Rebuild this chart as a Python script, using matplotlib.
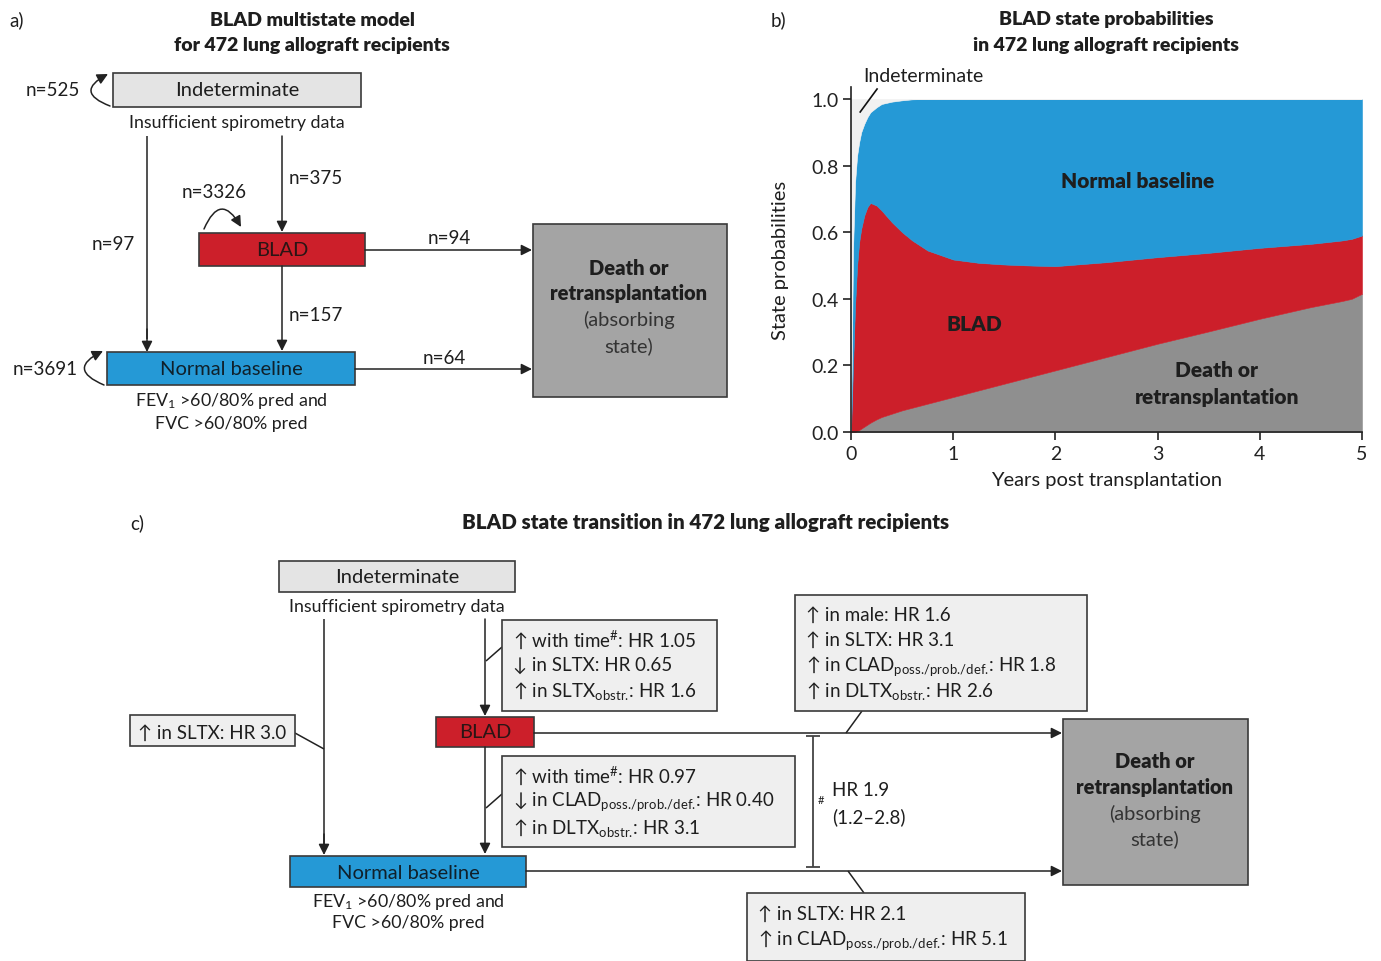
import matplotlib
matplotlib.use('Agg')
import matplotlib.pyplot as plt
from matplotlib.patches import Rectangle, FancyArrowPatch

plt.rcParams['font.family'] = ['Lato', 'DejaVu Sans']
plt.rcParams['mathtext.fontset'] = 'custom'
plt.rcParams['mathtext.rm'] = 'Lato'
plt.rcParams['mathtext.it'] = 'Lato:italic'
plt.rcParams['mathtext.bf'] = 'Lato:bold'
plt.rcParams['mathtext.fallback'] = 'stixsans'

# ---------------- data (panel b) ----------------
years = [0, 0.02, 0.04, 0.06, 0.08, 0.1, 0.13, 0.16, 0.19, 0.25, 0.3, 0.4, 0.5, 0.6,
         0.75, 1.0, 1.25, 1.5, 1.75, 2.0, 2.5, 3.0, 3.5, 4.0, 4.5, 4.8, 4.9, 5.0]
p_death = [0, 0, 0, 0.003, 0.006, 0.010, 0.016, 0.022, 0.028, 0.038, 0.045, 0.055, 0.065, 0.073,
           0.085, 0.105, 0.125, 0.145, 0.165, 0.185, 0.225, 0.265, 0.302, 0.340, 0.375, 0.393, 0.400, 0.415]
p_blad = [0, 0.20, 0.38, 0.497, 0.564, 0.600, 0.634, 0.653, 0.660, 0.642, 0.620, 0.575, 0.535, 0.502,
          0.460, 0.413, 0.383, 0.358, 0.335, 0.313, 0.285, 0.260, 0.236, 0.213, 0.190, 0.182, 0.180, 0.175]
p_normal = [0, 0.35, 0.37, 0.33, 0.30, 0.29, 0.275, 0.27, 0.272, 0.295, 0.32, 0.362, 0.396, 0.424,
            0.455, 0.482, 0.492, 0.497, 0.50, 0.502, 0.49, 0.475, 0.462, 0.447, 0.435, 0.425, 0.42, 0.41]
p_indet = [1.0, 0.45, 0.25, 0.17, 0.13, 0.10, 0.075, 0.055, 0.04, 0.025, 0.015, 0.008, 0.004, 0.001,
           0, 0, 0, 0, 0, 0, 0, 0, 0, 0, 0, 0, 0, 0]
x_ticks = [0, 1, 2, 3, 4, 5]
y_ticks = [0.0, 0.2, 0.4, 0.6, 0.8, 1.0]

# ---------------- data (panel a) ----------------
n_indet_self = 'n=525'
n_indet_normal = 'n=97'
n_indet_blad = 'n=375'
n_blad_self = 'n=3326'
n_blad_death = 'n=94'
n_blad_normal = 'n=157'
n_normal_self = 'n=3691'
n_normal_death = 'n=64'

# ---------------- data (panel c) ----------------
SUB_CLAD = '$_{\\mathrm{poss.\\!/prob.\\!/def.\\!}}$'
SUB_OBS = '$_{\\mathrm{obstr.\\!}}$'
hr_indet_normal = ['↑ in SLTX: HR 3.0']
hr_indet_blad = ['↑ with time$^{\\#}$: HR 1.05', '↓ in SLTX: HR 0.65',
                 '↑ in SLTX' + SUB_OBS + ': HR 1.6']
hr_blad_normal = ['↑ with time$^{\\#}$: HR 0.97', '↓ in CLAD' + SUB_CLAD + ': HR 0.40',
                  '↑ in DLTX' + SUB_OBS + ': HR 3.1']
hr_blad_death = ['↑ in male: HR 1.6', '↑ in SLTX: HR 3.1',
                 '↑ in CLAD' + SUB_CLAD + ': HR 1.8',
                 '↑ in DLTX' + SUB_OBS + ': HR 2.6']
hr_normal_death = ['↑ in SLTX: HR 2.1', '↑ in CLAD' + SUB_CLAD + ': HR 5.1']
hr_compare = ['HR 1.9', '(1.2–2.8)']

# ---------------- style ----------------
C_INDET_BOX = '#e4e4e4'
C_BLAD = '#cc1f2a'
C_NORMAL = '#2599d6'
C_DEATH_BOX = '#a4a4a4'
C_DEATH_AREA = '#8f8f8f'
C_INDET_AREA = '#f1f1f1'
C_HRBOX = '#efefef'
C_EDGE = '#3a3a3a'
C_LINE = '#222222'
C_TEXT = '#1e1e1e'

fig = plt.figure(figsize=(13.81, 9.62), dpi=100)
ax0 = fig.add_axes([0, 0, 1, 1])
ax0.set_xlim(0, 1381)
ax0.set_ylim(962, 0)
ax0.axis('off')

FS = 13.5
FS_BOX = 14.5
FS_S = 12.8
FS_T = 14
TW = 'heavy'


def box(x0, y0, x1, y1, fc, lw=1.2, ec=C_EDGE):
    ax0.add_patch(Rectangle((x0, y0), x1 - x0, y1 - y0, facecolor=fc, edgecolor=ec, lw=lw, zorder=3))


def arrow(p, q, rad=0.0):
    ax0.add_patch(FancyArrowPatch(p, q, arrowstyle='-|>', mutation_scale=16, lw=1.1, color=C_LINE,
                                  shrinkA=0, shrinkB=0, connectionstyle='arc3,rad=%s' % rad, zorder=4))


def line(p, q, color=C_LINE, lw=1.1):
    ax0.plot([p[0], q[0]], [p[1], q[1]], color=color, lw=lw, zorder=2, solid_capstyle='butt')


def txt(x, y, s, fs=FS, ha='center', weight='normal', color=C_TEXT):
    ax0.text(x, y + 1, s, fontsize=fs, ha=ha, va='center', weight=weight, color=color, zorder=5)


# ================= panel a =================
txt(17, 19, 'a)', fs=FS, ha='center')
txt(312, 19, 'BLAD multistate model', fs=FS_T, weight=TW)
txt(312, 44, 'for 472 lung allograft recipients', fs=FS_T, weight=TW)

box(113, 74, 361, 108, C_INDET_BOX)
txt(237, 90, 'Indeterminate', fs=FS_BOX)
txt(237, 122, 'Insufficient spirometry data', fs=FS_S)
txt(53, 90, n_indet_self)
arrow((110, 107), (108, 75), rad=-1.1)

line((147, 137), (147, 340))
arrow((147, 330), (147, 353))
txt(113, 243, n_indet_normal)
arrow((282, 137), (282, 233))
txt(316, 178, n_indet_blad)

box(199, 234, 365, 267, C_BLAD)
txt(282, 250, 'BLAD', fs=FS_BOX, color='#2a1515')
txt(214, 192, n_blad_self)
arrow((204, 230), (241, 228), rad=-1.0)

arrow((365, 251), (532, 251))
txt(449, 238, n_blad_death)
arrow((282, 267), (282, 352))
txt(316, 315, n_blad_normal)

box(107, 353, 355, 386, C_NORMAL)
txt(231, 369, 'Normal baseline', fs=FS_BOX, color='#10202a')
txt(45, 369, n_normal_self)
arrow((104, 386), (103, 352), rad=-1.1)
txt(231, 400, 'FEV$_{\\mathrm{1}}$ >60/80% pred and', fs=FS_S)
txt(231, 423, 'FVC >60/80% pred', fs=FS_S)

arrow((355, 370), (532, 370))
txt(444, 358, n_normal_death)

box(533, 225, 727, 398, C_DEATH_BOX)
txt(629, 268, 'Death or', fs=FS_BOX, weight=TW)
txt(629, 293, 'retransplantation', fs=FS_BOX, weight=TW)
txt(629, 319, '(absorbing', fs=FS_BOX, color='#333333')
txt(629, 345, 'state)', fs=FS_BOX, color='#333333')

# ================= panel c =================
txt(137, 522, 'c)')
txt(706, 522, 'BLAD state transition in 472 lung allograft recipients', fs=14.8, weight=TW)

box(279, 562, 515, 593, C_INDET_BOX)
txt(397, 577, 'Indeterminate', fs=FS_BOX)
txt(397, 606, 'Insufficient spirometry data', fs=FS_S)

line((324, 620), (324, 845))
arrow((324, 835), (324, 856))
arrow((485, 620), (485, 717))

box(130, 716, 295, 747, C_HRBOX)
txt(212, 732, hr_indet_normal[0])
line((295, 734), (324, 750))

box(502, 621, 717, 712, C_HRBOX)
for i, s in enumerate(hr_indet_blad):
    txt(513, 639 + 25.5 * i, s, ha='left')
line((486, 662), (502, 648))

box(436, 718, 534, 748, C_BLAD)
txt(485, 732, 'BLAD', fs=FS_BOX, color='#2a1515')
arrow((534, 734), (1062, 734))

box(502, 757, 795, 848, C_HRBOX)
for i, s in enumerate(hr_blad_normal):
    txt(513, 775 + 26 * i, s, ha='left')
arrow((485, 748), (485, 855))
line((486, 809), (502, 795))

box(290, 857, 526, 888, C_NORMAL)
txt(408, 873, 'Normal baseline', fs=FS_BOX, color='#10202a')
txt(408, 901, 'FEV$_{\\mathrm{1}}$ >60/80% pred and', fs=FS_S)
txt(408, 922, 'FVC >60/80% pred', fs=FS_S)
arrow((526, 872), (1062, 872))

box(1063, 720, 1248, 886, C_DEATH_BOX)
txt(1155, 761, 'Death or', fs=FS_BOX, weight=TW)
txt(1155, 787, 'retransplantation', fs=FS_BOX, weight=TW)
txt(1155, 813, '(absorbing', fs=FS_BOX, color='#333333')
txt(1155, 838, 'state)', fs=FS_BOX, color='#333333')

# bracket
line((813, 737), (813, 868), color='#444444', lw=1.3)
line((806, 737), (820, 737), color='#444444', lw=1.3)
line((806, 868), (820, 868), color='#444444', lw=1.3)
txt(821, 800, '#', fs=8)
txt(832, 790, hr_compare[0], ha='left')
txt(832, 816, hr_compare[1], ha='left')

box(795, 596, 1087, 712, C_HRBOX)
for i, s in enumerate(hr_blad_death):
    txt(806, 614 + 25.5 * i, s, ha='left')
line((862, 712), (846, 734))

box(747, 894, 1025, 962, C_HRBOX)
for i, s in enumerate(hr_normal_death):
    txt(758, 913 + 26 * i, s, ha='left')
line((848, 872), (864, 894))

# ================= panel b =================
txt(778, 19, 'b)')
txt(1106, 19, 'BLAD state probabilities', fs=FS_T, weight=TW)
txt(1106, 44, 'in 472 lung allograft recipients', fs=FS_T, weight=TW)

ymax = 1.036
axb = fig.add_axes([851 / 1381, 1 - 433 / 962, (1362 - 851) / 1381, (433 - 88) / 962])
axb.stackplot(years, p_death, p_blad, p_normal, p_indet,
              colors=[C_DEATH_AREA, C_BLAD, C_NORMAL, C_INDET_AREA], lw=0.4,
              edgecolor='face')
axb.set_xlim(0, 5)
axb.set_ylim(0, ymax)
axb.set_xticks(x_ticks)
axb.set_xticklabels([str(t) for t in x_ticks])
axb.set_yticks(y_ticks)
axb.set_yticklabels(['%.1f' % t for t in y_ticks])
axb.spines['top'].set_visible(False)
axb.spines['right'].set_visible(False)
for sp in ('left', 'bottom'):
    axb.spines[sp].set_linewidth(1.2)
    axb.spines[sp].set_color('#222222')
axb.tick_params(length=6, width=1.2, labelsize=14, colors='#222222', pad=3)
axb.set_ylabel('State probabilities', fontsize=14.5, color=C_TEXT, labelpad=16)
axb.set_xlabel('Years post transplantation', fontsize=14.5, color=C_TEXT, labelpad=7)

axb.text(2.80, 0.754, 'Normal baseline', fontsize=15, weight=TW, ha='center', va='center', color=C_TEXT)
axb.text(1.21, 0.327, 'BLAD', fontsize=15, weight=TW, ha='center', va='center', color=C_TEXT)
axb.text(3.58, 0.147, 'Death or\nretransplantation', fontsize=15, weight=TW, ha='center',
         va='center', color=C_TEXT, linespacing=1.45)
axb.plot([0.09, 0.255], [0.961, 1.03], color='#111111', lw=1.2, clip_on=False)
axb.text(0.12, 1.072, 'Indeterminate', fontsize=14, ha='left', va='center', color=C_TEXT, clip_on=False)

fig.savefig('out.png', dpi=100)
